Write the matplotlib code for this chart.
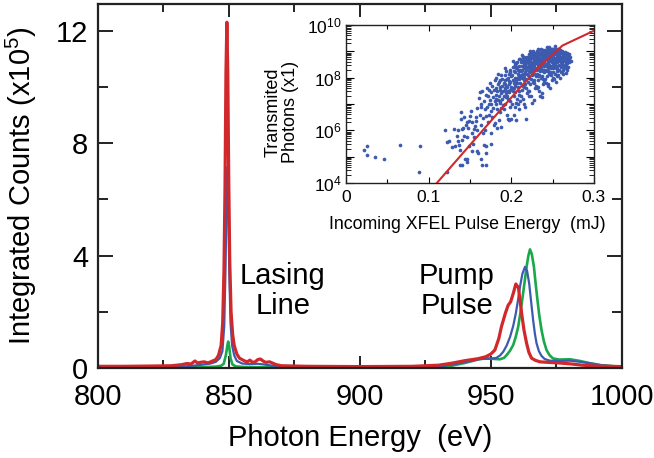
import numpy as np
import matplotlib.pyplot as plt
from matplotlib.ticker import MultipleLocator, LogLocator, FuncFormatter, NullFormatter

plt.rcParams['font.family'] = ['Liberation Sans', 'DejaVu Sans']
plt.rcParams['mathtext.fontset'] = 'custom'
plt.rcParams['mathtext.rm'] = 'Liberation Sans'
plt.rcParams['mathtext.it'] = 'Liberation Sans:italic'

# spectra (counts in units of 1e5)
red_energy = [800, 810, 820, 828, 832, 834, 835.5, 837, 838, 839, 840.5, 842, 843.5, 845, 846,
              847, 847.6, 848.1, 848.5, 848.85, 849.2, 849.55, 849.9, 850.3, 850.8, 851.4, 852,
              853, 854, 855, 856, 857, 858, 859, 860, 861, 862, 863, 864, 865.5, 866.5, 868, 870,
              880, 900, 920, 930, 935, 940, 945, 948, 950, 951.5, 953, 954, 955.5, 956.6, 957.5,
              958.5, 959.5, 960.5, 961.7, 962.6, 963.6, 964.5, 965.5, 967, 968.7, 972, 976, 980,
              985, 990, 1000]
red_counts = [0.06, 0.06, 0.07, 0.08, 0.12, 0.16, 0.14, 0.25, 0.18, 0.20, 0.22, 0.18, 0.24, 0.30, 0.45,
              0.8, 1.6, 3.5, 6.5, 10.5, 12.3, 10.5, 6.8, 3.8, 2.0, 1.2, 0.8,
              0.5, 0.35, 0.30, 0.25, 0.22, 0.28, 0.20, 0.22, 0.30, 0.32, 0.25, 0.20, 0.22, 0.18, 0.12, 0.08,
              0.06, 0.05, 0.06, 0.10, 0.17, 0.26, 0.33, 0.40, 0.50, 0.64, 1.05, 1.47, 1.95, 2.24, 2.35,
              2.65, 2.99, 2.85, 1.95, 1.35, 0.88, 0.55, 0.35, 0.27, 0.22, 0.20, 0.18, 0.15,
              0.10, 0.07, 0.05]

blue_energy = [800, 820, 830, 835, 838, 840, 843, 845, 846.5, 847.5, 848.2, 848.7, 849.1, 849.4,
               849.7, 850.1, 850.6, 851.2, 852, 853, 855, 858, 861, 863, 866, 870, 900, 930, 935,
               940, 945.8, 950, 952.1, 953.5, 954.7, 956, 957.3, 958.5, 959.5, 960.3, 961.1, 962,
               963, 963.8, 964.6, 965.4, 966.1, 966.8, 967.4, 968.3, 969.3, 970.5, 972.5, 976,
               980.2, 984, 987.8, 992, 1000]
blue_counts = [0.03, 0.03, 0.04, 0.07, 0.10, 0.12, 0.16, 0.22, 0.35, 0.6, 1.5, 3.6, 6.2, 7.15,
               6.0, 3.5, 1.6, 0.8, 0.45, 0.25, 0.16, 0.14, 0.15, 0.13, 0.09, 0.05, 0.03, 0.05, 0.12,
               0.20, 0.32, 0.33, 0.36, 0.45, 0.58, 0.80, 1.11, 1.5, 1.95, 2.4, 2.9, 3.35,
               3.6, 3.45, 3.0, 2.3, 1.7, 1.2, 0.88, 0.6, 0.43, 0.32, 0.26, 0.25,
               0.26, 0.22, 0.17, 0.10, 0.04]

green_energy = [800, 830, 840, 845, 847, 848, 848.8, 849.4, 849.7, 850.1, 850.6, 851.3, 852.5,
                855, 860, 870, 900, 930, 935, 940, 945, 948, 950, 953.4, 955, 956, 957.3, 958.5,
                959.5, 960.4, 961.3, 962.1, 962.9, 963.6, 964.3, 964.9, 965.6, 966.4, 967, 967.6,
                968.4, 969.3, 970.2, 971.2, 972.4, 973.7, 976, 980.2, 984, 987.8, 992, 1000]
green_counts = [0.02, 0.02, 0.03, 0.05, 0.08, 0.15, 0.45, 0.8, 0.94, 0.75, 0.35, 0.13, 0.06,
                0.04, 0.03, 0.02, 0.02, 0.03, 0.08, 0.18, 0.30, 0.35, 0.33, 0.31, 0.36, 0.46, 0.62, 0.82,
                1.12, 1.47, 2.0, 2.54, 3.1, 3.6, 4.0, 4.22, 4.05, 3.6, 3.05, 2.54,
                1.9, 1.35, 0.95, 0.64, 0.45, 0.34, 0.30, 0.31, 0.25, 0.17, 0.10, 0.04]

# inset: transmitted photons vs pulse energy (log10 of photons)
shot_energy = [
    0.022, 0.026, 0.026, 0.035, 0.046, 0.066, 0.090, 0.089, 0.120, 0.1226,
    0.125, 0.122, 0.131, 0.132, 0.134, 0.137, 0.138, 0.1395, 0.143, 0.135,
    0.140, 0.145, 0.147, 0.149, 0.141, 0.143, 0.146, 0.146, 0.144, 0.147,
    0.139, 0.142, 0.148, 0.150, 0.149, 0.153, 0.128, 0.136, 0.138, 0.140,
    0.151, 0.152, 0.153, 0.154, 0.155, 0.156, 0.157, 0.158, 0.158, 0.159,
    0.155, 0.157, 0.161, 0.162, 0.163, 0.163, 0.164, 0.165, 0.165, 0.166,
    0.167, 0.167, 0.168, 0.168, 0.169, 0.169, 0.170, 0.162, 0.164, 0.166,
    0.171, 0.171, 0.172, 0.172, 0.173, 0.173, 0.174, 0.174, 0.175, 0.175,
    0.176, 0.176, 0.177, 0.177, 0.178, 0.178, 0.179, 0.179, 0.180, 0.180,
    0.176, 0.173, 0.169, 0.170, 0.160, 0.180, 0.188, 0.196, 0.2056, 0.2177,
    0.181, 0.181, 0.182, 0.182, 0.183, 0.183, 0.184, 0.184, 0.185, 0.185,
    0.186, 0.186, 0.187, 0.187, 0.188, 0.188, 0.189, 0.189, 0.190, 0.190,
    0.183, 0.186, 0.188, 0.184, 0.185, 0.182, 0.189, 0.187, 0.191, 0.191,
    0.192, 0.192, 0.193, 0.193, 0.194, 0.194, 0.195, 0.195, 0.196, 0.196,
    0.197, 0.197, 0.198, 0.198, 0.199, 0.199, 0.200, 0.200, 0.191, 0.193,
    0.194, 0.195, 0.196, 0.197, 0.198, 0.192, 0.199, 0.197, 0.195, 0.193,
    0.201, 0.201, 0.202, 0.202, 0.203, 0.203, 0.204, 0.204, 0.205, 0.205,
    0.206, 0.206, 0.207, 0.207, 0.208, 0.208, 0.209, 0.209, 0.210, 0.210,
    0.201, 0.202, 0.203, 0.204, 0.205, 0.206, 0.207, 0.208, 0.209, 0.210,
    0.203, 0.205, 0.207, 0.209, 0.204, 0.206, 0.208, 0.202, 0.210, 0.207,
    0.211, 0.211, 0.212, 0.212, 0.213, 0.213, 0.214, 0.214, 0.215, 0.215,
    0.216, 0.216, 0.217, 0.217, 0.218, 0.218, 0.219, 0.219, 0.220, 0.220,
    0.211, 0.212, 0.213, 0.214, 0.215, 0.216, 0.217, 0.218, 0.219, 0.220,
    0.212, 0.213, 0.215, 0.216, 0.218, 0.219, 0.214, 0.217, 0.220, 0.211,
    0.216, 0.213, 0.218, 0.215, 0.219, 0.221, 0.221, 0.222, 0.222, 0.223,
    0.223, 0.224, 0.224, 0.225, 0.225, 0.226, 0.226, 0.227, 0.227, 0.228,
    0.228, 0.229, 0.229, 0.230, 0.230, 0.221, 0.222, 0.223, 0.224, 0.225,
    0.226, 0.227, 0.228, 0.229, 0.230, 0.222, 0.223, 0.225, 0.226, 0.228,
    0.229, 0.224, 0.227, 0.230, 0.221, 0.226, 0.223, 0.228, 0.225, 0.229,
    0.222, 0.224, 0.227, 0.230, 0.221, 0.231, 0.231, 0.232, 0.232, 0.233,
    0.233, 0.234, 0.234, 0.235, 0.235, 0.236, 0.236, 0.237, 0.237, 0.238,
    0.238, 0.239, 0.239, 0.240, 0.240, 0.231, 0.232, 0.233, 0.234, 0.235,
    0.236, 0.237, 0.238, 0.239, 0.240, 0.232, 0.233, 0.235, 0.236, 0.238,
    0.239, 0.234, 0.237, 0.240, 0.231, 0.236, 0.233, 0.238, 0.235, 0.239,
    0.232, 0.234, 0.237, 0.240, 0.231, 0.2375, 0.233, 0.236, 0.239, 0.234,
    0.241, 0.241, 0.242, 0.242, 0.243, 0.243, 0.244, 0.244, 0.245, 0.245,
    0.246, 0.246, 0.247, 0.247, 0.248, 0.248, 0.249, 0.249, 0.250, 0.250,
    0.241, 0.242, 0.243, 0.244, 0.245, 0.246, 0.247, 0.248, 0.249, 0.250,
    0.242, 0.243, 0.245, 0.246, 0.248, 0.249, 0.244, 0.247, 0.250, 0.241,
    0.246, 0.243, 0.248, 0.245, 0.249, 0.242, 0.244, 0.247, 0.250, 0.241,
    0.243, 0.246, 0.249, 0.244, 0.247, 0.251, 0.251, 0.252, 0.252, 0.253,
    0.253, 0.254, 0.254, 0.255, 0.255, 0.256, 0.256, 0.257, 0.257, 0.258,
    0.258, 0.259, 0.259, 0.260, 0.260, 0.251, 0.252, 0.253, 0.254, 0.255,
    0.256, 0.257, 0.258, 0.259, 0.260, 0.252, 0.253, 0.255, 0.256, 0.258,
    0.259, 0.254, 0.257, 0.260, 0.251, 0.256, 0.253, 0.258, 0.255, 0.257,
    0.261, 0.261, 0.262, 0.262, 0.263, 0.263, 0.264, 0.264, 0.265, 0.265,
    0.266, 0.266, 0.267, 0.267, 0.268, 0.268, 0.269, 0.270, 0.271, 0.263,
    0.266, 0.262, 0.264, 0.269, 0.272, 0.266, 0.2665, 0.262, 0.268, 0.270,
    0.221, 0.223, 0.225, 0.227, 0.229, 0.231, 0.233, 0.235, 0.237, 0.239,
    0.241, 0.243, 0.245, 0.247, 0.249, 0.251, 0.253, 0.255, 0.257, 0.259,
    0.261, 0.263, 0.265, 0.267, 0.269, 0.222, 0.226, 0.230, 0.234, 0.238,
    0.242, 0.246, 0.250, 0.254, 0.258, 0.262, 0.266, 0.224, 0.228, 0.232,
    0.236, 0.240, 0.244, 0.248, 0.252, 0.256, 0.260, 0.264, 0.268, 0.270,
    0.215, 0.218, 0.212, 0.209, 0.206, 0.203, 0.200, 0.197, 0.194, 0.214,
]
shot_log_photons = [
    5.25, 5.40, 5.08, 4.97, 4.93, 5.45, 5.39, 4.41, 6.00, 5.54,
    5.60, 4.42, 6.06, 5.41, 5.80, 5.43, 4.67, 6.69, 6.51, 6.00,
    6.05, 6.20, 6.30, 6.35, 5.65, 5.80, 5.75, 4.90, 4.92, 4.80,
    6.42, 6.10, 6.08, 6.55, 5.40, 5.20, 5.35, 5.58, 5.25, 4.68,
    6.72, 5.90, 6.30, 5.50, 6.05, 6.17, 6.50, 6.86, 5.20, 6.00,
    5.75, 6.35, 7.24, 6.60, 6.90, 4.90, 6.20, 4.70, 7.50, 6.45,
    5.45, 7.10, 6.80, 6.00, 7.35, 6.55, 5.40, 7.45, 7.00, 5.90,
    7.60, 6.90, 6.30, 7.30, 7.00, 6.60, 7.80, 7.15, 6.75, 5.90,
    7.45, 7.00, 6.50, 7.70, 7.25, 6.85, 7.55, 6.20, 7.10, 7.90,
    5.50, 7.55, 4.68, 5.15, 5.15, 6.29, 6.13, 6.43, 6.39, 6.43,
    7.60, 7.00, 7.35, 8.00, 6.80, 7.50, 7.15, 7.75, 6.40, 7.30,
    7.90, 7.05, 7.55, 6.70, 7.40, 8.10, 7.20, 7.70, 6.95, 7.50,
    6.10, 7.65, 6.85, 8.15, 7.85, 7.20, 7.95, 7.10, 7.80, 7.30,
    8.10, 7.55, 7.00, 7.90, 7.40, 8.25, 7.65, 6.60, 7.20, 8.00,
    7.75, 7.45, 8.30, 7.10, 7.85, 7.55, 8.05, 6.43, 6.80, 8.35,
    7.70, 7.95, 7.50, 8.15, 6.90, 7.75, 8.20, 6.40, 7.30, 7.60,
    8.10, 7.60, 8.40, 7.90, 7.30, 8.25, 7.75, 8.55, 8.00, 7.45,
    8.35, 7.85, 8.60, 7.20, 8.15, 7.65, 8.45, 7.95, 8.70, 7.50,
    7.00, 8.65, 7.80, 8.20, 8.50, 7.05, 8.00, 8.30, 7.35, 8.05,
    6.60, 7.70, 7.80, 8.25, 6.90, 8.55, 7.00, 7.50, 6.80, 8.40,
    8.30, 7.80, 8.60, 8.05, 7.55, 8.45, 8.15, 8.80, 7.90, 8.35,
    8.65, 7.65, 8.20, 8.50, 7.95, 8.75, 8.40, 7.40, 8.10, 8.60,
    8.70, 7.30, 8.85, 7.70, 8.55, 8.00, 7.75, 8.30, 8.80, 7.85,
    8.25, 8.00, 8.10, 8.40, 8.55, 8.15, 7.20, 6.90, 7.50, 7.10,
    8.80, 8.30, 7.60, 7.00, 8.65, 8.50, 8.00, 8.80, 8.25, 7.75,
    8.65, 8.35, 8.95, 8.10, 8.55, 8.85, 7.85, 8.40, 8.70, 8.15,
    8.90, 8.60, 7.60, 8.30, 8.80, 8.90, 7.50, 9.00, 7.95, 8.75,
    8.20, 7.90, 8.50, 8.95, 8.05, 8.45, 8.20, 8.30, 8.60, 8.70,
    8.35, 7.30, 7.15, 7.70, 7.30, 9.00, 8.50, 7.80, 7.05, 8.80,
    8.60, 8.75, 8.55, 8.55, 8.70, 8.65, 8.15, 8.95, 8.40, 7.90,
    8.80, 8.50, 9.05, 8.25, 8.70, 8.95, 8.00, 8.55, 8.85, 8.30,
    9.00, 8.75, 7.75, 8.45, 8.90, 9.00, 7.65, 9.10, 8.10, 8.90,
    8.35, 8.05, 8.60, 9.05, 8.20, 8.60, 8.35, 8.45, 8.75, 8.85,
    8.50, 7.50, 7.40, 7.85, 7.60, 9.10, 8.65, 7.95, 7.30, 8.95,
    8.75, 8.85, 8.70, 8.65, 8.85, 7.25, 8.05, 8.55, 8.25, 8.30,
    8.70, 8.30, 9.00, 8.50, 8.05, 8.85, 8.60, 9.10, 8.35, 8.80,
    9.05, 8.15, 8.65, 8.90, 8.45, 9.10, 8.80, 7.90, 8.55, 8.95,
    9.05, 7.80, 9.15, 8.25, 9.00, 8.50, 8.20, 8.70, 9.10, 8.35,
    8.70, 8.45, 8.60, 8.85, 8.95, 8.60, 7.70, 7.60, 8.00, 7.95,
    9.15, 8.75, 8.10, 7.75, 9.00, 8.90, 8.95, 8.80, 8.75, 8.90,
    8.25, 8.65, 8.40, 8.40, 9.05, 8.75, 8.40, 9.05, 8.55, 8.15,
    8.90, 8.65, 9.10, 8.45, 8.85, 9.00, 8.25, 8.70, 8.95, 8.50,
    9.10, 8.80, 8.00, 8.60, 8.95, 9.10, 7.95, 9.20, 8.35, 9.05,
    8.60, 8.30, 8.75, 9.05, 8.40, 8.75, 8.50, 8.65, 8.90, 8.95,
    8.65, 7.85, 8.10, 8.20, 8.20, 8.80, 8.70, 8.30, 8.05, 8.85,
    8.80, 8.45, 9.00, 8.60, 8.30, 8.85, 8.70, 8.95, 8.50, 8.75,
    8.90, 8.35, 8.65, 8.80, 8.55, 8.95, 8.75, 8.60, 8.80, 8.15,
    8.60, 8.75, 8.40, 8.40, 8.65, 8.55, 8.17, 8.20, 8.30, 8.90,
    8.62, 8.78, 8.48, 8.88, 8.58, 8.72, 8.92, 8.62, 8.98, 8.68,
    8.82, 8.98, 8.72, 9.02, 8.62, 8.88, 9.02, 8.78, 9.08, 8.68,
    8.92, 8.62, 8.98, 8.72, 8.88, 8.38, 8.52, 8.68, 8.42, 8.58,
    8.52, 8.78, 8.68, 8.58, 8.82, 8.52, 8.45, 8.88, 8.28, 8.48,
    8.62, 8.30, 8.88, 8.35, 8.48, 8.42, 8.78, 8.82, 8.42, 8.72,
    8.48, 8.62, 8.12, 8.02, 7.92, 7.62, 7.65, 7.88, 7.28, 8.68,
]
model_energy = [0.11, 0.16, 0.21, 0.235, 0.262, 0.30]
model_log_photons = [4.0, 5.8, 7.6, 8.45, 9.22, 9.78]

red = '#d1282b'
blue = '#3c5aaf'
green = '#1ba84b'

fig = plt.figure(figsize=(6.54, 4.58), dpi=100)
ax = fig.add_axes([0.1498, 0.1965, 0.8012, 0.7948])

ax.plot(green_energy, green_counts, color=green, lw=1.9)
ax.plot(blue_energy, blue_counts, color=blue, lw=1.6)
ax.plot(red_energy, red_counts, color=red, lw=2.3)

ax.set_xlim(800, 1000)
ax.set_ylim(0, 12.95)
ax.xaxis.set_major_locator(MultipleLocator(50))
ax.xaxis.set_minor_locator(MultipleLocator(25))
ax.yaxis.set_major_locator(MultipleLocator(4))
ax.yaxis.set_minor_locator(MultipleLocator(2))
ax.tick_params(which='both', direction='in', top=True, right=True, width=1.4,
               labelsize=21, color='#222222')
ax.tick_params(axis='y', which='major', length=11, pad=7)
ax.tick_params(axis='y', which='minor', length=7)
ax.tick_params(axis='x', which='major', length=9, pad=11)
ax.tick_params(axis='x', which='minor', length=6)
for s in ax.spines.values():
    s.set_linewidth(1.6)
    s.set_color('#222222')

ax.set_xlabel('Photon Energy  (eV)', fontsize=21)
ax.xaxis.set_label_coords(0.5, -0.155)
ax.set_ylabel('Integrated Counts (x10$^5$)', fontsize=21)
ax.yaxis.set_label_coords(-0.112, 0.5)

ax.text(870.6, 2.74, 'Lasing\nLine', ha='center', va='center', fontsize=21, linespacing=1.1)
ax.text(937, 2.74, 'Pump\nPulse', ha='center', va='center', fontsize=21, linespacing=1.1)

# inset
axin = fig.add_axes([0.529, 0.6004, 0.379, 0.345])
axin.scatter(shot_energy, np.power(10.0, shot_log_photons), s=7, color=blue,
             linewidths=0, zorder=2)
axin.plot(model_energy, np.power(10.0, model_log_photons), color=red, lw=1.5, zorder=3)
axin.set_yscale('log')
axin.set_xlim(0, 0.3)
axin.set_ylim(1e4, 1e10)
axin.xaxis.set_major_locator(MultipleLocator(0.1))
axin.xaxis.set_minor_locator(MultipleLocator(0.05))
axin.xaxis.set_major_formatter(FuncFormatter(lambda v, p: '0' if abs(v) < 1e-9 else f'{v:.1f}'))
axin.yaxis.set_major_locator(LogLocator(base=10, numticks=20))
axin.yaxis.set_minor_locator(LogLocator(base=10, subs=np.arange(2, 10), numticks=20))
axin.yaxis.set_minor_formatter(NullFormatter())
axin.yaxis.set_major_formatter(FuncFormatter(
    lambda v, p: f'$10^{{{int(round(np.log10(v)))}}}$' if int(round(np.log10(v))) % 2 == 0 else ''))
axin.tick_params(which='both', direction='in', top=True, right=True, labelsize=12.5, width=0.8)
axin.tick_params(axis='y', which='major', length=6, pad=3)
axin.tick_params(axis='y', which='minor', length=3.5, width=0.6)
axin.tick_params(axis='x', which='major', length=4, pad=5)
axin.tick_params(axis='x', which='minor', length=3)
for s in axin.spines.values():
    s.set_linewidth(1.0)
    s.set_color('#222222')

axin.set_xlabel('Incoming XFEL Pulse Energy  (mJ)', fontsize=12.8)
axin.xaxis.set_label_coords(0.488, -0.21)
axin.set_ylabel('Transmited\nPhotons (x1)', fontsize=13, linespacing=1.0)
axin.yaxis.set_label_coords(-0.19, 0.45)

fig.savefig('out.png', dpi=100)
